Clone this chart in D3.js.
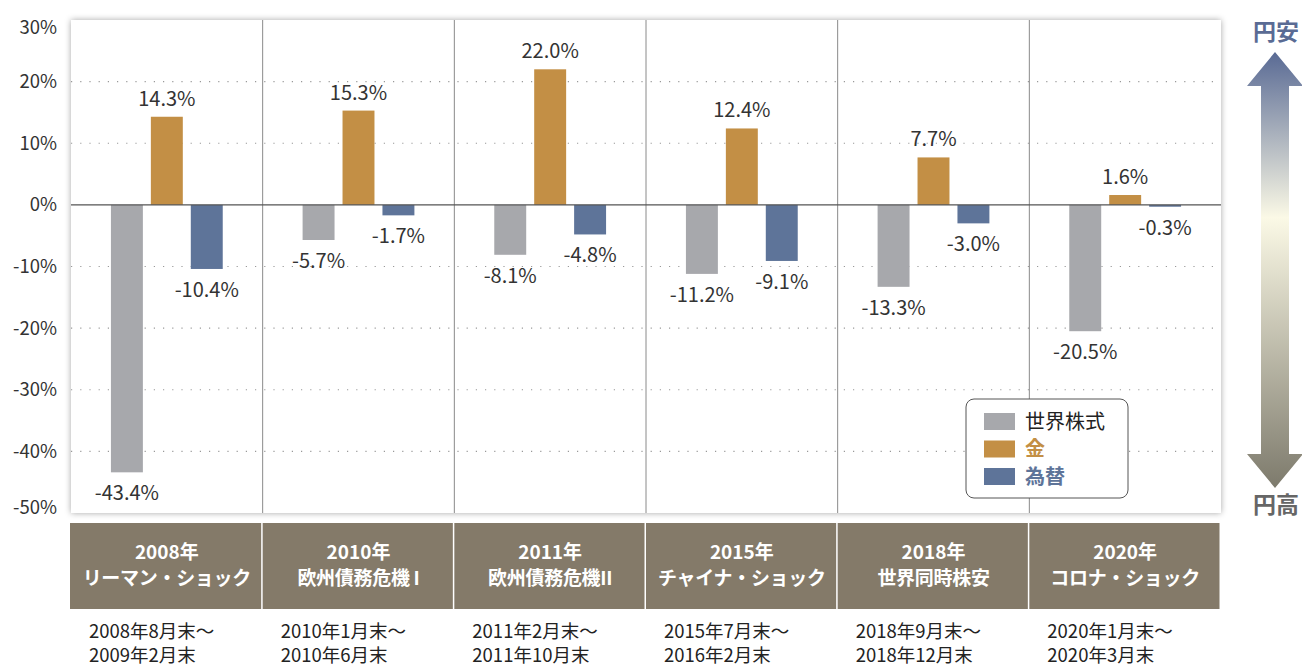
<!DOCTYPE html>
<html>
<head>
<meta charset="UTF-8">
<title>リスクオフ局面の騰落率</title>
<script src="https://d3js.org/d3.v7.min.js"></script>
<style>
  body { margin: 0; background: #fff; }
  svg text { font-family: "Noto Sans CJK JP", "Noto Sans", sans-serif; }
</style>
</head>
<body>
<div class="canvas"></div>
<script>
// data
const years = ["2008年", "2010年", "2011年", "2015年", "2018年", "2020年"];
const events = ["リーマン・ショック", "欧州債務危機 I", "欧州債務危機II", "チャイナ・ショック", "世界同時株安", "コロナ・ショック"];
const periodStart = ["2008年8月末～", "2010年1月末～", "2011年2月末～", "2015年7月末～", "2018年9月末～", "2020年1月末～"];
const periodEnd = ["2009年2月末", "2010年6月末", "2011年10月末", "2016年2月末", "2018年12月末", "2020年3月末"];
const seriesNames = ["世界株式", "金", "為替"];
const stocks = [-43.4, -5.7, -8.1, -11.2, -13.3, -20.5];
const gold = [14.3, 15.3, 22.0, 12.4, 7.7, 1.6];
const fx = [-10.4, -1.7, -4.8, -9.1, -3.0, -0.3];
const yTicks = [30, 20, 10, 0, -10, -20, -30, -40, -50];

const colors = { "世界株式": "#a7a8ac", "金": "#c38f45", "為替": "#5e7499" };
const legendText = { "世界株式": "#222", "金": "#c38f45", "為替": "#5e7499" };

const width = 1302, height = 666;
const plot = { left: 71, right: 1221, top: 20, bottom: 513 };

// plain hyphen for negatives, like the original
const pct = v => (v < 0 ? "-" : "") + Math.abs(v).toFixed(1) + "%";

const svg = d3.select(".canvas").append("svg")
  .attr("width", width).attr("height", height);

const defs = svg.append("defs");
const shadow = defs.append("filter").attr("id", "shadow")
  .attr("x", "-5%").attr("y", "-5%").attr("width", "110%").attr("height", "110%");
shadow.append("feDropShadow").attr("dx", 0).attr("dy", 0)
  .attr("stdDeviation", 3).attr("flood-color", "#000").attr("flood-opacity", 0.35);

const grad = defs.append("linearGradient").attr("id", "arrowGrad")
  .attr("x1", 0).attr("y1", 0).attr("x2", 0).attr("y2", 1);
grad.append("stop").attr("offset", "0%").attr("stop-color", "#596a94");
grad.append("stop").attr("offset", "38%").attr("stop-color", "#fbf9e6");
grad.append("stop").attr("offset", "100%").attr("stop-color", "#7d7a6c");

// scales
const x0 = d3.scaleBand().domain(years).range([plot.left, plot.right]).padding(0);
const x1 = d3.scaleBand().domain(seriesNames).range([0, x0.bandwidth()])
  .paddingInner(0.2).paddingOuter(1.0);
const y = d3.scaleLinear().domain([-50, 30]).range([plot.bottom, plot.top]);

// plot background with shadow
svg.append("rect")
  .attr("x", plot.left).attr("y", plot.top)
  .attr("width", plot.right - plot.left).attr("height", plot.bottom - plot.top)
  .attr("fill", "#fff").attr("filter", "url(#shadow)");

// dotted gridlines
svg.append("g").selectAll("line")
  .data(yTicks.filter(d => d !== 0 && d !== 30 && d !== -50))
  .join("line")
  .attr("x1", plot.left).attr("x2", plot.right)
  .attr("y1", d => y(d)).attr("y2", d => y(d))
  .attr("stroke", "#999").attr("stroke-width", 1.2)
  .attr("stroke-dasharray", "1.2,8");

// group separators
svg.append("g").selectAll("line")
  .data(years.slice(1))
  .join("line")
  .attr("x1", d => x0(d)).attr("x2", d => x0(d))
  .attr("y1", plot.top).attr("y2", plot.bottom)
  .attr("stroke", "#8a8a8a").attr("stroke-width", 1);

// y axis labels
const yAxis = d3.axisLeft(y).tickValues(yTicks).tickSize(0).tickPadding(14)
  .tickFormat(d => d + "%");
const yg = svg.append("g").attr("transform", `translate(${plot.left},0)`).call(yAxis);
yg.select(".domain").remove();
yg.selectAll("text")
  .attr("font-size", 18.5).attr("fill", "#333")
  .attr("dy", d => d === 30 ? "0.72em" : d === -50 ? "0.05em" : "0.32em");

// bars
const rows = years.map((yr, i) => ({
  year: yr,
  values: [
    { key: "世界株式", v: stocks[i] },
    { key: "金", v: gold[i] },
    { key: "為替", v: fx[i] }
  ]
}));

const groups = svg.append("g").selectAll("g")
  .data(rows).join("g")
  .attr("transform", d => `translate(${x0(d.year)},0)`);

groups.selectAll("rect")
  .data(d => d.values).join("rect")
  .attr("x", d => x1(d.key))
  .attr("width", x1.bandwidth())
  .attr("y", d => y(Math.max(0, d.v)))
  .attr("height", d => Math.max(1, Math.abs(y(d.v) - y(0))))
  .attr("fill", d => colors[d.key]);

groups.selectAll("text.val")
  .data(d => d.values).join("text")
  .attr("class", "val")
  .attr("x", d => x1(d.key) + x1.bandwidth() / 2)
  .attr("y", d => d.v >= 0 ? y(d.v) - 11 : y(d.v) + 28)
  .attr("text-anchor", "middle")
  .attr("font-size", 20).attr("fill", "#333")
  .text(d => pct(d.v));

// zero line
svg.append("line")
  .attr("x1", plot.left).attr("x2", plot.right)
  .attr("y1", y(0)).attr("y2", y(0))
  .attr("stroke", "#555").attr("stroke-width", 1.2);

// header band
const head = svg.append("g");
head.selectAll("rect")
  .data(years).join("rect")
  .attr("x", d => x0(d) - (d === years[0] ? 1 : 0))
  .attr("y", 523)
  .attr("width", d => x0.bandwidth() - 1.5 + (d === years[0] ? 1 : 0))
  .attr("height", 86)
  .attr("fill", "#847a69");
head.selectAll("text.yr")
  .data(years).join("text").attr("class", "yr")
  .attr("x", d => x0(d) + x0.bandwidth() / 2).attr("y", 559)
  .attr("text-anchor", "middle").attr("font-size", 19).attr("font-weight", "bold")
  .attr("fill", "#fff").text(d => d);
head.selectAll("text.ev")
  .data(events).join("text").attr("class", "ev")
  .attr("x", (d, i) => x0(years[i]) + x0.bandwidth() / 2).attr("y", 585)
  .attr("text-anchor", "middle").attr("font-size", 19).attr("font-weight", "bold")
  .attr("letter-spacing", "-0.3")
  .attr("fill", "#fff").text(d => d);

// periods
svg.append("g").selectAll("text")
  .data(years).join("text")
  .attr("x", d => x0(d) + 18).attr("y", 638)
  .attr("font-size", 18.5).attr("fill", "#222")
  .text((d, i) => periodStart[i]);
svg.append("g").selectAll("text")
  .data(years).join("text")
  .attr("x", d => x0(d) + 18).attr("y", 662)
  .attr("font-size", 18.5).attr("fill", "#222")
  .text((d, i) => periodEnd[i]);

// legend
const lg = svg.append("g").attr("transform", "translate(966,399)");
lg.append("rect").attr("width", 162).attr("height", 99).attr("rx", 8)
  .attr("fill", "#fff").attr("stroke", "#555").attr("stroke-width", 1);
const li = lg.selectAll("g").data(seriesNames).join("g")
  .attr("transform", (d, i) => `translate(18,${22 + i * 27.5})`);
li.append("rect").attr("y", -8).attr("width", 31).attr("height", 17)
  .attr("fill", d => colors[d]);
li.append("text").attr("x", 41).attr("y", 7.5)
  .attr("font-size", 20)
  .attr("font-weight", d => d === "世界株式" ? "normal" : "bold")
  .attr("fill", d => legendText[d]).text(d => d);

// yen arrow
const ax = 1275, aTop = 52, aBot = 488, hw = 28, sw = 14, hh = 34;
svg.append("path")
  .attr("d", `M${ax},${aTop} L${ax + hw},${aTop + hh} L${ax + sw},${aTop + hh} L${ax + sw},${aBot - hh}
    L${ax + hw},${aBot - hh} L${ax},${aBot} L${ax - hw},${aBot - hh} L${ax - sw},${aBot - hh}
    L${ax - sw},${aTop + hh} L${ax - hw},${aTop + hh} Z`)
  .attr("fill", "url(#arrowGrad)");
svg.append("text").attr("x", ax + 1).attr("y", 40).attr("text-anchor", "middle")
  .attr("font-size", 23).attr("font-weight", "bold").attr("fill", "#5a6b94").text("円安");
svg.append("text").attr("x", ax + 1).attr("y", 513).attr("text-anchor", "middle")
  .attr("font-size", 23).attr("font-weight", "bold").attr("fill", "#666").text("円高");
</script>
</body>
</html>
